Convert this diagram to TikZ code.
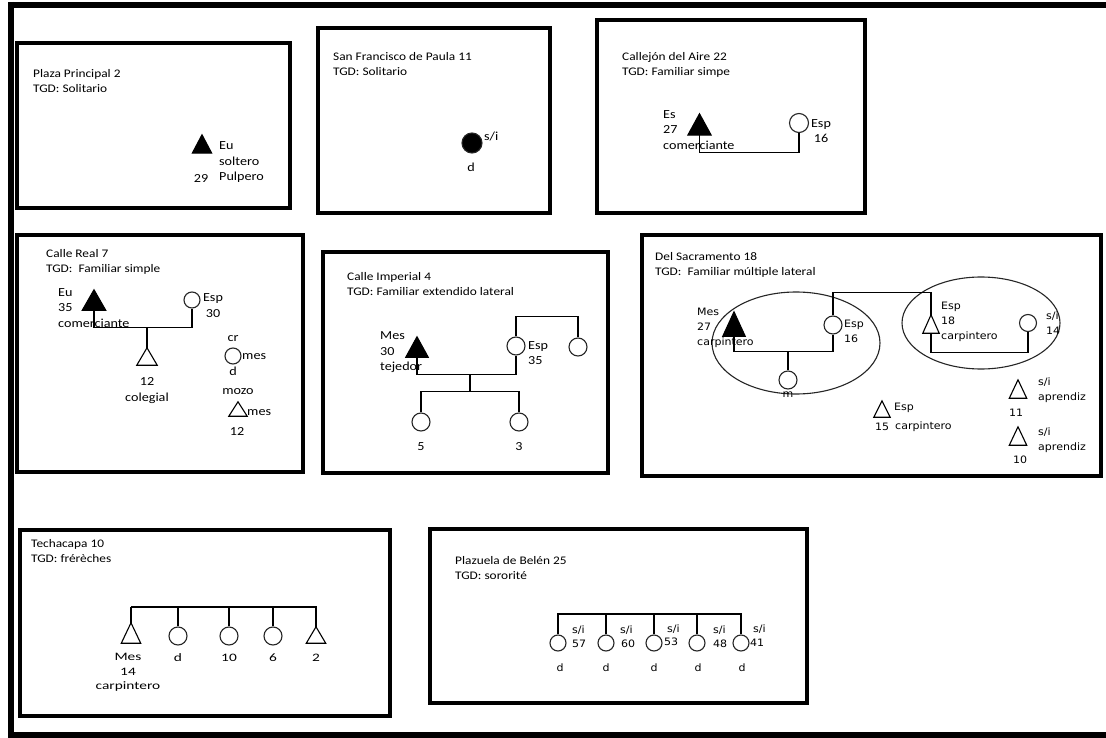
\documentclass[tikz,border=0pt]{standalone}
\usepackage{fontspec}
\setmainfont{Carlito}
\newfontfamily\calf[FakeStretch=1.15]{Carlito}
\newfontfamily\calw[FakeStretch=1.35]{Carlito}
\newfontfamily\verf[FakeStretch=1.08]{DejaVu Sans}
\usetikzlibrary{shapes.geometric}
\tikzset{
  box/.style={draw, line width=3.2pt},
  frameline/.style={line width=5.5pt},
  link/.style={draw, line width=1.3pt},
  grp/.style={ellipse, draw=black!85, line width=1.1pt, inner sep=0pt},
  fem/.style={circle, draw=black!85, line width=1.1pt, inner sep=0pt, minimum size=#1},
  fem/.default=18pt,
  male/.style args={#1x#2}{rectangle, inner sep=0pt, minimum width=#1pt, minimum height=#2pt,
    append after command={\pgfextra{\draw[line width=1.1pt, line join=miter]
      (\tikzlastnode.south west) -- (\tikzlastnode.north) -- (\tikzlastnode.south east) -- cycle;}}},
  malefill/.style args={#1x#2}{rectangle, inner sep=0pt, minimum width=#1pt, minimum height=#2pt,
    append after command={\pgfextra{\draw[fill=black, line width=1.1pt, line join=miter]
      (\tikzlastnode.south west) -- (\tikzlastnode.north) -- (\tikzlastnode.south east) -- cycle;}}},
  ttl/.style={font=\calf\fontsize{11.6}{15.5}\selectfont, anchor=north west, align=left, inner sep=0pt},
  lbl/.style={font=\calf\fontsize{12.3}{15.5}\selectfont, inner sep=0pt},
  wl/.style={font=\verf\fontsize{10.2}{15}\selectfont, inner sep=0pt},
  tl/.style={font=\calw\fontsize{11.4}{14.5}\selectfont, inner sep=0pt},
}
\begin{document}
\begin{tikzpicture}[x=1pt, y=-1pt]
\useasboundingbox (0,0) rectangle (1106,738);
\fill[white] (0,0) rectangle (1106,738);

% outer frame (open on the right)
\draw[frameline] (8,5) -- (1106,5);
\draw[frameline] (11,2) -- (11,738);
\draw[frameline] (8,735) -- (1106,735);

% household boxes
\draw[box] (17,43) rectangle (290,208);
\draw[box] (318,28) rectangle (550,213);
\draw[box] (597,20) rectangle (865,213);
\draw[box] (17,235) rectangle (303,472);
\draw[box] (323,252) rectangle (608,473);
\draw[box] (642,235) rectangle (1101,476);
\draw[box] (20,530) rectangle (390,716);
\draw[box] (430,529) rectangle (807,703);

% titles
\node[ttl] (t1) at (33,69) {Plaza Principal 2\\TGD: Solitario};
\node[ttl] (t2) at (333,52) {San Francisco de Paula 11\\TGD: Solitario};
\node[ttl] (t3) at (622,52) {Callejón del Aire 22\\TGD: Familiar simpe};
\node[ttl] (t4) at (46,249) {Calle Real 7\\TGD:\ \ Familiar simple};
\node[ttl] (t5) at (347,272) {Calle Imperial 4\\TGD: Familiar extendido lateral};
\node[ttl] (t6) at (655,252) {Del Sacramento 18\\TGD:\ \ Familiar múltiple lateral};
\node[ttl] (t7) at (31,539) {Techacapa 10\\TGD: frérèches};
\node[ttl] (t8) at (455,556) {Plazuela de Belén 25\\TGD: sororité};

% Plaza Principal 2
\node[malefill=19x18] (p1) at (202,144) {};
\node[lbl, align=left, anchor=west] (p1l) at (219,162.5) {Eu\\soltero\\Pulpero};
\node[lbl] (p1a) at (201,179) {29};

% San Francisco de Paula 11
\node[fem=20pt, fill=black] (s2) at (472,143) {};
\node[lbl, anchor=west] (s2a) at (484,136) {s/i};
\node[lbl] (s2b) at (471,167) {d};

% Callejón del Aire 22
\node[lbl, align=left, anchor=west] (e3l) at (663,130) {Es\\27\\comerciante};
\node[malefill=23x21] (e3) at (699.5,124.5) {};
\node[fem=19pt] (f3) at (799,123) {};
\node[lbl, align=center] (f3l) at (821,131) {Esp\\16};
\draw[link] (e3.south) -- ++(0,17) -| (f3.south);

% Calle Real 7
\node[lbl, align=left, anchor=west] (e4l) at (58,308) {Eu\\35\\comerciante};
\node[malefill=23x20] (e4) at (94,300) {};
\node[fem=16pt] (f4) at (192,300) {};
\node[lbl, align=center] (f4l) at (213,305.5) {Esp\\30};
\draw[link] (e4.south) -- ++(0,17) -| (f4.south);
\coordinate (j4) at (147,327);
\node[male=20x17] (c4) at (147,356.5) {};
\draw[link] (j4) -- (c4.north);
\node[lbl, align=center] (c4l) at (147,390.5) {12\\colegial};
\node[fem=16pt] (d4) at (233,356) {};
\node[lbl] (d4a) at (233,339) {cr};
\node[lbl, anchor=west] (d4b) at (242,357) {mes};
\node[lbl] (d4c) at (233,371) {d};
\node[male=18x14] (m4) at (238,409) {};
\node[lbl] (m4a) at (238,392) {mozo};
\node[lbl, anchor=west] (m4b) at (247,413) {mes};
\node[lbl] (m4c) at (237,432) {12};

% Calle Imperial 4
\node[lbl, align=left, anchor=west] (e5l) at (380,352.5) {Mes\\30\\tejedor};
\node[malefill=22x20] (e5) at (417,347) {};
\node[fem=18pt] (f5) at (516,346) {};
\node[lbl, align=left, anchor=west] (f5l) at (528,353) {Esp\\35};
\node[fem=18pt] (g5) at (578,347) {};
\draw[link] (e5.south) -- ++(0,17) -| (f5.south);
\draw[link] (f5.north) -- ++(0,-20) -| (g5.north);
\coordinate (j5) at (470,374);
\coordinate (k5) at (470,392);
\draw[link] (j5) -- (k5);
\node[fem=18pt] (c5a) at (421,422) {};
\node[fem=18pt] (c5b) at (519,422) {};
\draw[link] (c5a.north) -- ++(0,-21) -| (c5b.north);
\node[lbl] (c5al) at (421,447) {5};
\node[lbl] (c5bl) at (519,447) {3};

% Del Sacramento 18
\node[grp, minimum width=168pt, minimum height=102pt] (o6a) at (796,343) {};
\node[grp, minimum width=158pt, minimum height=92pt] (o6b) at (981,323) {};
\node[wl, align=left, anchor=west] (e6l) at (697,328) {Mes\\27\\carpintero};
\node[malefill=22x24] (e6) at (734,324) {};
\node[fem=18pt] (f6) at (833,325) {};
\node[wl, align=left, anchor=west] (f6l) at (844,331) {Esp\\16};
\draw[link] (e6.south) -- ++(0,15) -| (f6.south);
\coordinate (j6) at (788,351);
\node[fem=18pt] (c6) at (788,380) {};
\draw[link] (j6) -- (c6.north);
\node[wl] (c6l) at (788,395) {m};
\node[male=16x18] (h6) at (931,324) {};
\draw[link] (f6.north) -- ++(0,-23) -| (h6.north);
\node[wl, align=left, anchor=west] (h6l) at (941,322) {Esp\\18\\carpintero};
\node[fem=17pt] (w6) at (1028,323) {};
\node[wl, align=left, anchor=west] (w6l) at (1046,323) {s/i\\14};
\draw[link] (h6.south) -- ++(0,19) -| (w6.south);
\node[male=16x16] (b6) at (882,409) {};
\node[wl, anchor=west] (b6a) at (894,408) {Esp};
\node[wl] (b6b) at (882,427) {15};
\node[wl, anchor=west] (b6c) at (895,427) {carpintero};
\node[male=17x18] (a6) at (1018,389) {};
\node[wl, align=left, anchor=west] (a6l) at (1038,390.5) {s/i\\aprendiz};
\node[wl] (a6n) at (1016,413) {11};
\node[male=17x18] (a7) at (1018,436) {};
\node[wl, align=left, anchor=west] (a7l) at (1038,440) {s/i\\aprendiz};
\node[wl] (a7n) at (1020,460) {10};

% Techacapa 10
\coordinate (h7) at (131,607);
\node[male=19x20] (t7a) at (131,633) {};
\node[fem=18pt] (t7b) at (178,636) {};
\node[fem=18pt] (t7c) at (229,636) {};
\node[fem=18pt] (t7d) at (273,636) {};
\node[male=19x16] (t7e) at (316,635) {};
\draw[link] (h7) -| (t7e.north);
\draw[link, line width=2.6pt] (h7) -- (t7a.north);
\draw[link] (t7b.north) -- (t7b.north |- h7);
\draw[link] (t7c.north) -- (t7c.north |- h7);
\draw[link] (t7d.north) -- (t7d.north |- h7);
\node[tl, align=center] (t7al) at (128,672.5) {Mes\\14\\carpintero};
\node[tl] (t7bl) at (178,658) {d};
\node[tl] (t7cl) at (229,658) {10};
\node[tl] (t7dl) at (273,658) {6};
\node[tl] (t7el) at (316,658) {2};

% Plazuela de Belén 25
\coordinate (h8) at (557,614);
\node[fem=16pt] (q1) at (558,643) {};
\node[fem=16pt] (q2) at (606,643) {};
\node[fem=16pt] (q3) at (654,643) {};
\node[fem=16pt] (q4) at (697,643) {};
\node[fem=16pt] (q5) at (741,643) {};
\draw[link] (q1.north) -- (q1.north |- h8) -- (q5.north |- h8) -- (q5.north);
\draw[link] (q2.north) -- (q2.north |- h8);
\draw[link] (q3.north) -- (q3.north |- h8);
\draw[link] (q4.north) -- (q4.north |- h8);
\node[wl, anchor=west] (q1a) at (572,630) {s/i};
\node[wl, anchor=west] (q2a) at (620,630) {s/i};
\node[wl, anchor=west] (q3a) at (667,629) {s/i};
\node[wl, anchor=west] (q4a) at (713,630) {s/i};
\node[wl, anchor=west] (q5a) at (753,629) {s/i};
\node[wl, anchor=west] (q1b) at (572,644) {57};
\node[wl, anchor=west] (q2b) at (621,644) {60};
\node[wl, anchor=west] (q3b) at (664,642) {53};
\node[wl, anchor=west] (q4b) at (713,644) {48};
\node[wl, anchor=west] (q5b) at (750,643) {41};
\node[wl] (q1c) at (560,668) {d};
\node[wl] (q2c) at (606,668) {d};
\node[wl] (q3c) at (654,668) {d};
\node[wl] (q4c) at (698,668) {d};
\node[wl] (q5c) at (742,668) {d};
\end{tikzpicture}
\end{document}
